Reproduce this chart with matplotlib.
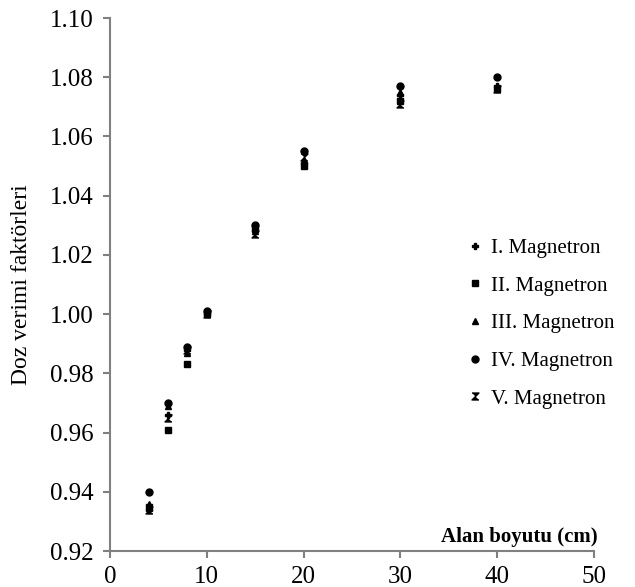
import matplotlib
matplotlib.use("Agg")
import matplotlib.pyplot as plt

plt.rcParams['font.family'] = ['Liberation Serif', 'DejaVu Serif']

# Alan boyutu (cm)
alan = [4, 6, 8, 10, 15, 20, 30, 40]

# Doz verimi faktorleri, her magnetron icin
mag1 = [0.934, 0.966, 0.988, 1.000, 1.028, 1.051, 1.074, 1.077]
mag2 = [0.935, 0.961, 0.983, 1.000, 1.029, 1.050, 1.072, 1.076]
mag3 = [0.936, 0.969, 0.987, 1.001, 1.028, 1.052, 1.075, 1.077]
mag4 = [0.940, 0.970, 0.989, 1.001, 1.030, 1.055, 1.077, 1.080]
mag5 = [0.934, 0.965, 0.988, 1.000, 1.027, 1.053, 1.071, 1.076]

labels = ["I. Magnetron", "II. Magnetron", "III. Magnetron",
          "IV. Magnetron", "V. Magnetron"]

hourglass = [(-1, 1), (1, 1), (-1, -1), (1, -1)]
styles = [('P', 5), ('s', 4.5), ('^', 5), ('o', 5), (hourglass, 5)]

fig = plt.figure(figsize=(6.35, 5.87), dpi=100)
ax = fig.add_axes([0.1732, 0.0613, 0.7622, 0.908])

for ys, lab, (m, ms) in zip([mag1, mag2, mag3, mag4, mag5], labels, styles):
    ax.plot(alan, ys, linestyle='none', marker=m, markersize=ms,
            color='black', label=lab)

ax.set_xlim(0, 50)
ax.set_ylim(0.92, 1.10)
ax.set_xticks(range(0, 51, 10))
ax.set_yticks([0.92 + 0.02 * i for i in range(10)])
ax.yaxis.set_major_formatter(plt.FormatStrFormatter('%.2f'))

for s in ['top', 'right']:
    ax.spines[s].set_visible(False)
for s in ['left', 'bottom']:
    ax.spines[s].set_color('#808080')
    ax.spines[s].set_linewidth(1.5)
ax.tick_params(direction='out', length=5, width=1.5, color='#808080',
               labelsize=18, labelcolor='black')
ax.tick_params(axis='y', pad=7)
ax.tick_params(axis='x', pad=6)

ax.set_ylabel("Doz verimi faktörleri", fontsize=17, labelpad=13)
ax.set_xlabel("Alan boyutu (cm)", fontsize=15, fontweight='bold',
              ha='right', va='bottom')
ax.xaxis.set_label_coords(1.008, 0.008)

ax.legend(loc='upper left', bbox_to_anchor=(0.728, 0.594),
          bbox_transform=fig.transFigure, frameon=False, fontsize=15,
          handletextpad=0.2, labelspacing=0.87, handlelength=1.2,
          borderaxespad=0, borderpad=0)

fig.savefig("out.png", dpi=100)
